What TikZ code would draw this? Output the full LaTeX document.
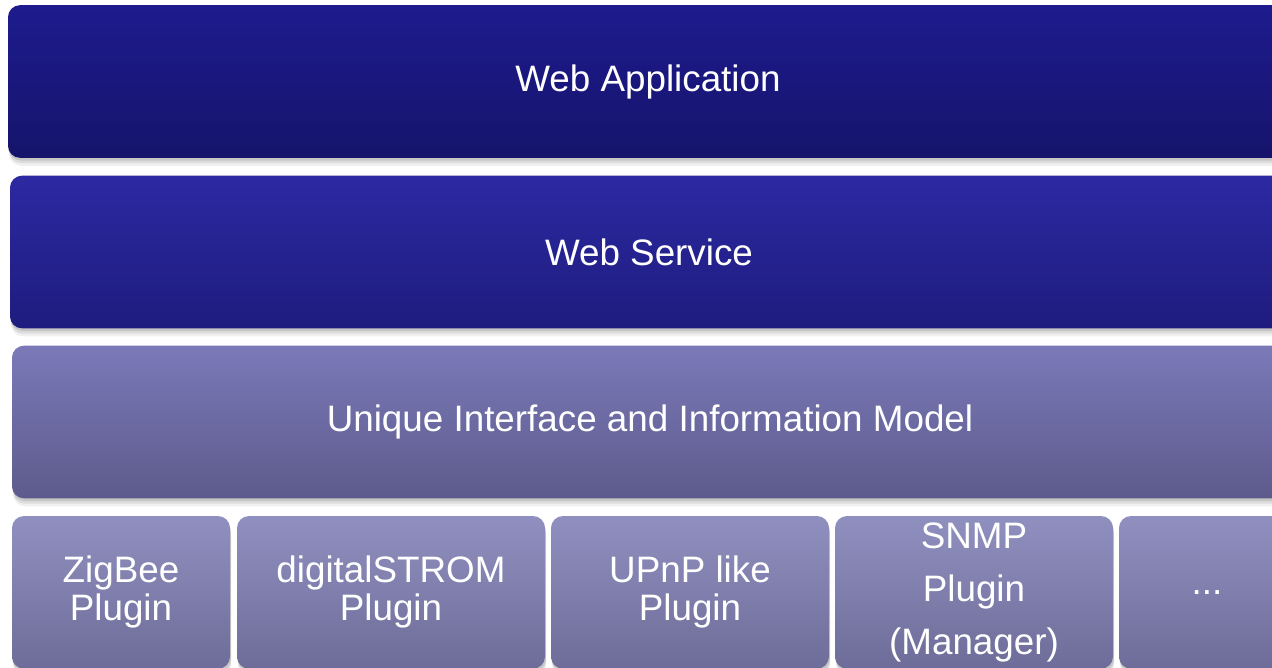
\documentclass[tikz,border=0pt]{standalone}
\usepackage{fontspec}
\setmainfont{Liberation Sans}
\usetikzlibrary{positioning, shadows}
\definecolor{AppTop}{HTML}{1E1B8E}
\definecolor{AppBottom}{HTML}{15146B}
\definecolor{ServiceTop}{HTML}{2C29A2}
\definecolor{ServiceBottom}{HTML}{1E1C7E}
\definecolor{ModelTop}{HTML}{7B79B8}
\definecolor{ModelBottom}{HTML}{5D5B8C}
\definecolor{PluginTop}{HTML}{9090C0}
\definecolor{PluginBottom}{HTML}{6E6C98}

\begin{document}
\begin{tikzpicture}[
    x=0.75pt, y=-0.75pt,
    node distance=4.5pt,
    layer/.style={rectangle, rounded corners=9pt, inner sep=0pt, outer sep=0pt, minimum height=114.5pt, text=white, font=\fontsize{27.6}{28.5}\selectfont,
        drop shadow={opacity=0.12, shadow xshift=0.8pt, shadow yshift=-6pt},
        drop shadow={opacity=0.18, shadow xshift=0.8pt, shadow yshift=-4pt},
        drop shadow={opacity=0.25, shadow xshift=0.6pt, shadow yshift=-2pt}},
    plugin/.style={layer, top color=PluginTop, bottom color=PluginBottom, align=center}
]
    \useasboundingbox (0,0) rectangle (1272,668);
    \clip (0,0) rectangle (1272,668);

    % Schichten
    \node[layer, minimum width=960pt, top color=AppTop, bottom color=AppBottom] (webapp) at (648,81.5) {Web Application};
    \node[layer, minimum width=958.5pt, top color=ServiceTop, bottom color=ServiceBottom] (websrv) at (649,252) {Web Service};
    \node[layer, minimum width=957pt, top color=ModelTop, bottom color=ModelBottom] (model) at (650,422) {Unique Interface and Information Model};

    % Plugins
    \node[plugin, minimum width=163.5pt, anchor=north west] (zigbee) at (12,516) {ZigBee\\Plugin};
    \node[plugin, minimum width=231pt, right=5.25pt of zigbee] (dstrom) {digitalSTROM\\Plugin};
    \node[plugin, minimum width=208.5pt, right=4.5pt of dstrom] (upnp) {UPnP like\\Plugin};
    \node[plugin, minimum width=208.5pt, right=4.5pt of upnp, font=\fontsize{27.6}{40}\selectfont] (snmp) {SNMP\\Plugin\\(Manager)};
    \node[plugin, minimum width=132pt, right=4.5pt of snmp] (more) {...};
\end{tikzpicture}
\end{document}
